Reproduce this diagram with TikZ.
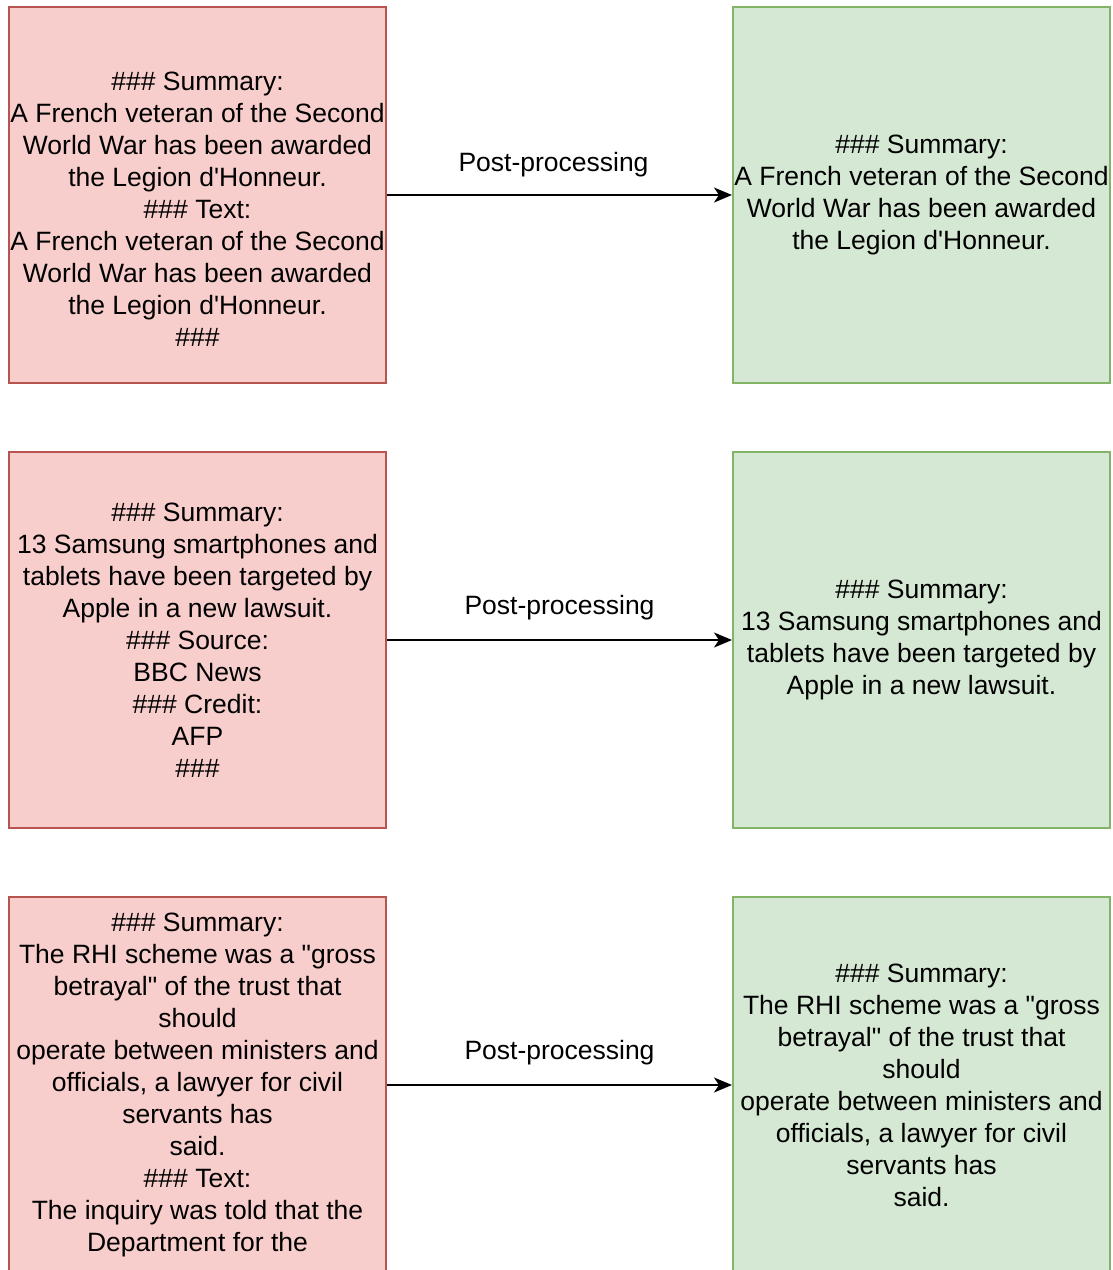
\documentclass[tikz,border=0pt]{standalone}
\usepackage{fontspec}
\setmainfont{Liberation Sans}[Ligatures=TeXOff]
\usepackage{xcolor}
\usetikzlibrary{shapes,arrows.meta}

\definecolor{redfill}{HTML}{F8CECC}
\definecolor{reddraw}{HTML}{B85450}
\definecolor{greenfill}{HTML}{D5E8D4}
\definecolor{greendraw}{HTML}{82B366}
\newcommand{\hashes}{\#\#\#}

\begin{document}
\begin{tikzpicture}[x=1pt,y=-1pt,font=\fontsize{26.5}{32}\selectfont]
    % Define block styles
    \tikzstyle{rawout} = [rectangle, minimum width=377pt, minimum height=376pt, inner sep=0pt, align=center, draw=reddraw, line width=2pt, fill=redfill]
    \tikzstyle{cleanout} = [rectangle, minimum width=377pt, minimum height=376pt, inner sep=0pt, align=center, draw=greendraw, line width=2pt, fill=greenfill]
    \tikzstyle{arrow} = [line width=1.8pt, -{Stealth[length=18pt,width=15pt,inset=5pt]}]
    \tikzstyle{steplabel} = [above=19pt, inner sep=0pt]

    \clip (0,0) rectangle (1113,1270);

    % Draw nodes
    \node (raw1) [rawout] at (197.5,195) {\mbox{}\\[15pt]\hashes{} Summary:\\A French veteran of the Second\\World War has been awarded\\the Legion d'Honneur.\\\hashes{} Text:\\A French veteran of the Second\\World War has been awarded\\the Legion d'Honneur.\\\hashes};
    \node (clean1) [cleanout] at (921.5,195) {\hashes{} Summary:\\A French veteran of the Second\\World War has been awarded\\the Legion d'Honneur.};
    \node (raw2) [rawout] at (197.5,640) {\hashes{} Summary:\\13 Samsung smartphones and\\tablets have been targeted by\\Apple in a new lawsuit.\\\hashes{} Source:\\BBC News\\\hashes{} Credit:\\AFP\\\hashes};
    \node (clean2) [cleanout] at (921.5,640) {\hashes{} Summary:\\13 Samsung smartphones and\\tablets have been targeted by\\Apple in a new lawsuit.};
    \node (raw3) [rawout] at (197.5,1085) {\hashes{} Summary:\\The RHI scheme was a "gross\\betrayal" of the trust that\\should\\operate between ministers and\\officials, a lawyer for civil\\servants has\\said.\\\hashes{} Text:\\The inquiry was told that the\\Department for the};
    \node (clean3) [cleanout] at (921.5,1085) {\hashes{} Summary:\\The RHI scheme was a "gross\\betrayal" of the trust that\\should\\operate between ministers and\\officials, a lawyer for civil\\servants has\\said.};

    % Draw edges
    \draw [arrow] (raw1) -- node (post1) [steplabel, xshift=-6pt, yshift=-2pt] {Post-processing} (clean1);
    \draw [arrow] (raw2) -- node (post2) [steplabel] {Post-processing} (clean2);
    \draw [arrow] (raw3) -- node (post3) [steplabel] {Post-processing} (clean3);

\end{tikzpicture}
\end{document}
